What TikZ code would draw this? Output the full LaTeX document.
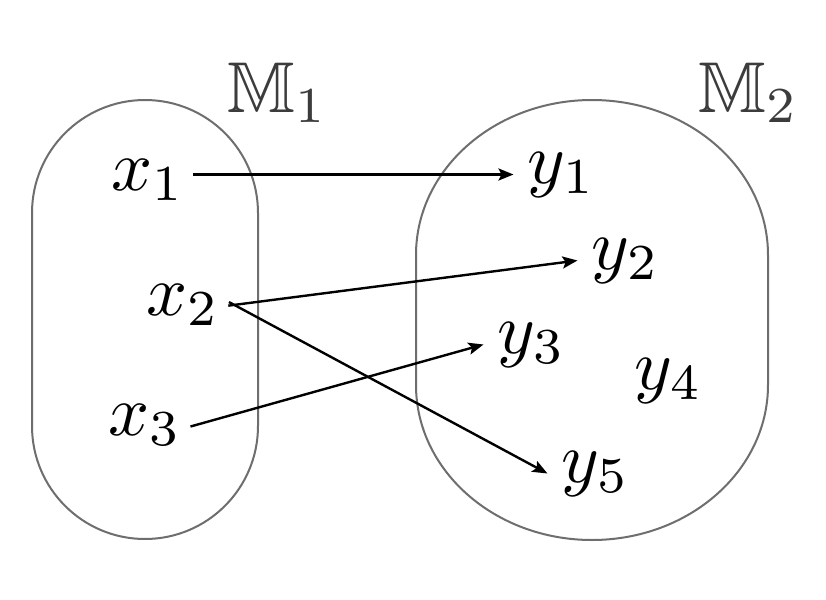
\documentclass[tikz,border=0pt]{standalone}
\usepackage{amssymb}
\usetikzlibrary{arrows.meta}
\definecolor{setline}{RGB}{110,110,110}
\definecolor{setname}{RGB}{60,60,60}
\begin{document}
\begin{tikzpicture}[x = 0.5pt, y = -0.5pt]
\tikzstyle{arrow}=[-{Stealth[length=7.5pt,width=6pt,inset=1.5pt]}, line width=1.2pt, shorten <=-3pt]
\tikzstyle{elem}=[scale=3.6, inner sep=1.8pt, anchor=base west]
\tikzstyle{set}=[draw=setline, line width=1pt]

\useasboundingbox[fill=white] (0,0) rectangle (826,600);

% the two sets
\draw[set] (32,426) -- (32,213) arc[start angle=180, end angle=360, radius=113] -- (258,426) arc[start angle=0, end angle=180, radius=113] -- cycle;
\draw[set] (416,385) -- (416,255) arc[start angle=180, end angle=360, x radius=176, y radius=155] -- (768,385) arc[start angle=0, end angle=180, x radius=176, y radius=155] -- cycle;

\node[elem, text=setname] (M1) at (213,112) {$\mathbb{M}_1$};
\node[elem, text=setname] (M2) at (684,112) {$\mathbb{M}_2$};

\node[elem] (x1) at (97,190) {$x_1$};
\node[elem] (x2) at (132,315) {$x_2$};
\node[elem] (x3) at (94,435) {$x_3$};

\node[elem] (y1) at (513.5,183) {$y_1$};
\node[elem] (y2) at (577.5,269) {$y_2$};
\node[elem] (y3) at (483.5,353) {$y_3$};
\node[elem] (y4) at (620.5,389) {$y_4$};
\node[elem] (y5) at (547.5,482) {$y_5$};

\draw[arrow] (x1.east |- y1.west) -- (y1.west);
\draw[arrow] (x2.east) -- (y2.west);
\draw[arrow] (x2.east) -- (y5.west);
\draw[arrow] (x3.east) -- (y3.west);

\end{tikzpicture}
\end{document}
